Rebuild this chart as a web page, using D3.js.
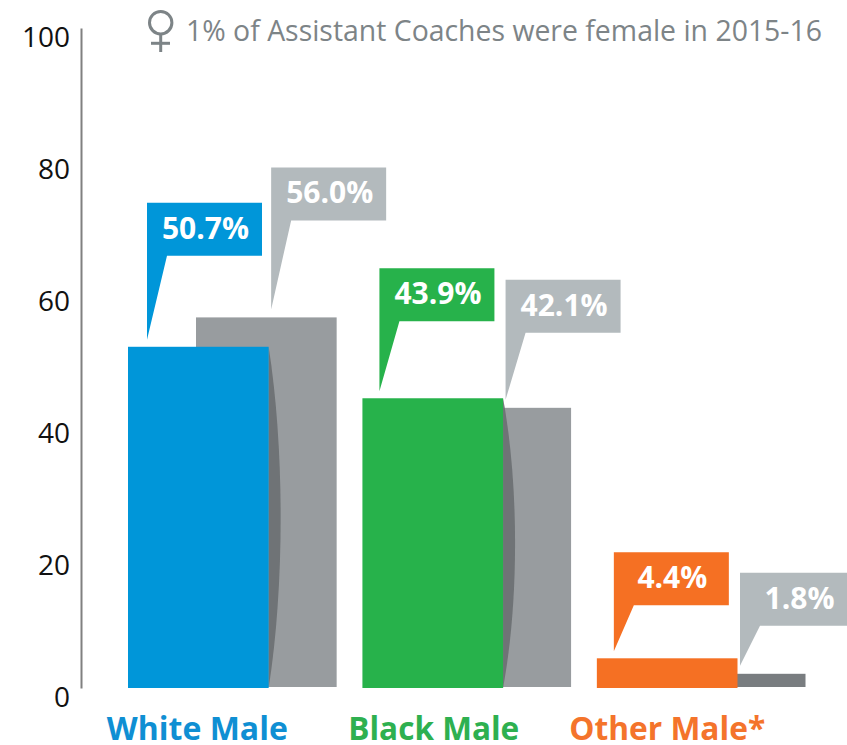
<!DOCTYPE html>
<html>
<head>
<meta charset="utf-8">
<script src="https://cdnjs.cloudflare.com/ajax/libs/d3/7.8.5/d3.min.js"></script>
<style>
  html, body { margin: 0; padding: 0; background: #fff; overflow: hidden; }
  svg { display: block; font-family: "Open Sans", sans-serif; }
</style>
</head>
<body>
<div id="chart"></div>
<script>
const categories = ["White Male", "Black Male", "Other Male*"];
const colorLabels = ["50.7%", "43.9%", "4.4%"];
const grayLabels = ["56.0%", "42.1%", "1.8%"];
// bar heights as read against the axis; the drawn bars do not sit exactly on their printed labels
const colorHeights = [51.7, 43.9, 4.5];
const grayHeights = [56.0, 42.3, 2.0];
const yTicks = [0, 20, 40, 60, 80, 100];
const barColors = ["#0096d9", "#27b24b", "#f57023"];
const labelColors = ["#0f8fd3", "#2eb050", "#f4742b"];
const note = "1% of Assistant Coaches were female in 2015-16";

const width = 847, height = 745;
const grayOffset = 68;
// how far each callout box floats above its bar, and where it starts from the bar's edge
const colorLift = [144, 130, 106];
const grayLift = [150, 128, 101];
const colorInset = [19, 17, 17];
const labelWidths = [181, 171, 196];
const labelShift = [-1, 1, 0];

const svg = d3.select("#chart").append("svg")
  .attr("width", width)
  .attr("height", height);

const y = d3.scaleLinear().domain([0, 100]).range([688, 28]);
const x = d3.scaleBand().domain(categories).range([128, 737.5]).paddingInner(0.4).paddingOuter(0);
const bw = x.bandwidth();

function callout(px, top, fill, label, tipY, textDx) {
  const boxW = 115, boxH = 53;
  const g = svg.append("g");
  g.append("path")
    .attr("d", `M${px},${top}H${px + boxW}V${top + boxH}H${px + 20}L${px},${tipY}Z`)
    .attr("fill", fill);
  g.append("text")
    .attr("x", px + boxW / 2 + textDx)
    .attr("y", top + 36)
    .attr("text-anchor", "middle")
    .attr("fill", "#fff")
    .style("font-weight", 700)
    .style("font-size", "30px")
    .text(label);
}

// gray bars go behind, shifted up a pixel like in the original
svg.append("g").selectAll("rect")
  .data(categories)
  .enter().append("rect")
  .attr("x", d => x(d) + grayOffset)
  .attr("y", (d, i) => y(grayHeights[i]) - 1)
  .attr("width", bw)
  .attr("height", (d, i) => y(0) - y(grayHeights[i]))
  .attr("fill", (d, i) => i === 2 ? "#797d80" : "#989c9f");

// curved shadow the colored bars throw on the gray ones
svg.append("g").selectAll("path")
  .data(categories.slice(0, 2))
  .enter().append("path")
  .attr("d", (d, i) => {
    const right = x(d) + bw, top = y(colorHeights[i]), bottom = y(0);
    const bulge = 16;
    const p = d3.path();
    p.moveTo(right, top);
    p.bezierCurveTo(right + bulge, top + (bottom - top) * 0.3, right + bulge, top + (bottom - top) * 0.7, right, bottom);
    p.closePath();
    return p.toString();
  })
  .attr("fill", "#6f7376");

svg.append("g").selectAll("rect")
  .data(categories)
  .enter().append("rect")
  .attr("x", d => x(d))
  .attr("y", (d, i) => y(colorHeights[i]))
  .attr("width", bw)
  .attr("height", (d, i) => y(0) - y(colorHeights[i]))
  .attr("fill", (d, i) => barColors[i]);

categories.forEach((c, i) => {
  const colorTop = y(colorHeights[i]);
  const grayTop = y(grayHeights[i]) - 1;
  callout(x(c) + colorInset[i], colorTop - colorLift[i], barColors[i], colorLabels[i], colorTop - 7, 1);
  callout(x(c) + bw + 2.5, grayTop - grayLift[i], "#b3babd", grayLabels[i], grayTop - 8, i === 2 ? 2 : 1);
});

const yAxis = d3.axisLeft(y).tickValues(yTicks).tickSize(0).tickPadding(11).tickFormat(d3.format("d"));
const axisG = svg.append("g")
  .attr("transform", "translate(81,0)")
  .call(yAxis);
axisG.select(".domain").attr("stroke", "#808080").attr("stroke-width", 2);
axisG.selectAll("text")
  .attr("dy", "0.66em")
  .attr("fill", "#111")
  .style("font-family", "'Open Sans', sans-serif")
  .style("font-size", "28px");

svg.append("g").selectAll("text")
  .data(categories)
  .enter().append("text")
  .attr("x", (d, i) => x(d) + bw / 2 + labelShift[i])
  .attr("y", 740)
  .attr("text-anchor", "middle")
  .attr("fill", (d, i) => labelColors[i])
  .attr("textLength", (d, i) => labelWidths[i])
  .attr("lengthAdjust", "spacingAndGlyphs")
  .style("font-weight", 700)
  .style("font-size", "33px")
  .text(d => d);

// female symbol next to the note
const venus = svg.append("g").attr("fill", "none").attr("stroke", "#7d8487").attr("stroke-width", 3);
venus.append("circle").attr("cx", 160.7).attr("cy", 22.7).attr("r", 11.2);
venus.append("line").attr("x1", 160.7).attr("x2", 160.7).attr("y1", 34).attr("y2", 52);
venus.append("line").attr("x1", 151).attr("x2", 170).attr("y1", 43.3).attr("y2", 43.3);

svg.append("text")
  .attr("x", 186)
  .attr("y", 41)
  .attr("fill", "#7d8487")
  .attr("textLength", 636)
  .attr("lengthAdjust", "spacingAndGlyphs")
  .style("font-size", "29px")
  .text(note);
</script>
</body>
</html>
